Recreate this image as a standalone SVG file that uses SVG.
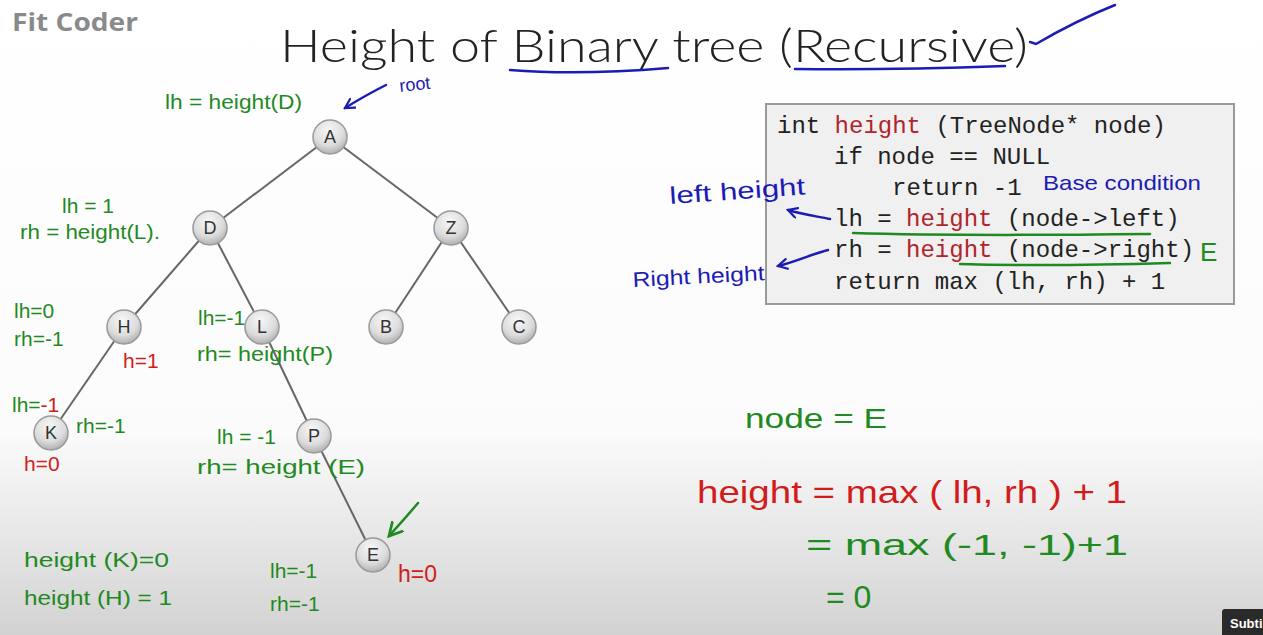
<svg xmlns="http://www.w3.org/2000/svg" width="1263" height="635" viewBox="0 0 1263 635">
<defs>
<linearGradient id="bg" x1="0" y1="0" x2="0" y2="1">
<stop offset="0" stop-color="#ffffff"/>
<stop offset="0.68" stop-color="#fbfbfb"/>
<stop offset="0.85" stop-color="#e6e6e6"/>
<stop offset="1" stop-color="#d2d2d2"/>
</linearGradient>
<radialGradient id="ball" cx="0.45" cy="0.3" r="0.75">
<stop offset="0" stop-color="#f7f7f7"/>
<stop offset="0.6" stop-color="#dcdcdc"/>
<stop offset="1" stop-color="#a8a8a8"/>
</radialGradient>
<marker id="ab" viewBox="0 0 12 12" refX="10" refY="6" markerWidth="12" markerHeight="12" markerUnits="userSpaceOnUse" orient="auto">
<path d="M1 1 L10 6 L1 11" fill="none" stroke="#1c1cb4" stroke-width="2.2" stroke-linecap="round"/>
</marker>
<marker id="ag" viewBox="0 0 14 14" refX="12" refY="7" markerWidth="16" markerHeight="16" markerUnits="userSpaceOnUse" orient="auto">
<path d="M1 1 L12 7 L1 13" fill="none" stroke="#1f8a1f" stroke-width="2.4" stroke-linecap="round"/>
</marker>
<style>
.nd{fill:url(#ball);stroke:#9a9a9a;stroke-width:1.5}
.nl{font-family:"Liberation Sans",Arial,sans-serif;font-size:18px;fill:#333;text-anchor:middle}
.ed{stroke:#666;stroke-width:2;fill:none}
.code{font-family:"Liberation Mono","DejaVu Sans Mono",monospace;font-size:24px;fill:#222}
.kw{fill:#b0242c}
.g{font-family:"Liberation Sans",Arial,sans-serif;font-size:21px;fill:#1f8a1f}
.r{font-family:"Liberation Sans",Arial,sans-serif;font-size:21px;fill:#d21c1c}
.b{font-family:"Liberation Sans",Arial,sans-serif;font-size:21px;fill:#1c1cb4}
.bs{stroke:#1c1cb4;stroke-width:2.5;fill:none;stroke-linecap:round}
.gs{stroke:#1f8a1f;stroke-width:2.5;fill:none;stroke-linecap:round}
</style>
</defs>
<rect x="0" y="0" width="1263" height="635" fill="url(#bg)"/>
<text x="12" y="31" font-family="'Open Sans','Liberation Sans',sans-serif" font-size="25" font-weight="bold" fill="#8a8a8a" textLength="126" lengthAdjust="spacingAndGlyphs">Fit Coder</text>
<text x="280" y="62" font-family="Lato,'Open Sans','Liberation Sans',sans-serif" font-size="46" font-weight="300" fill="#222" textLength="748" lengthAdjust="spacingAndGlyphs">Height of Binary tree (Recursive)</text>
<g id="title-marks">
<path class="bs" d="M510 70 C560 74 620 72 668 68"/>
<path class="bs" d="M795 69 C870 70 950 68 1005 66"/>
<path class="bs" d="M1030 42 L1036 44 C1060 30 1090 15 1115 5"/>
</g>
<g id="connectors">
<line class="ed" x1="330" y1="137" x2="210" y2="228"/>
<line class="ed" x1="330" y1="137" x2="451" y2="228"/>
<line class="ed" x1="210" y1="228" x2="124" y2="327"/>
<line class="ed" x1="210" y1="228" x2="262" y2="327"/>
<line class="ed" x1="451" y1="228" x2="386" y2="327"/>
<line class="ed" x1="451" y1="228" x2="519" y2="327"/>
<line class="ed" x1="124" y1="327" x2="51" y2="433"/>
<line class="ed" x1="262" y1="327" x2="314" y2="436"/>
<line class="ed" x1="314" y1="436" x2="373" y2="555"/>
</g>
<g id="node-A"><circle class="nd" cx="330" cy="137" r="17"/><text class="nl" x="330" y="143">A</text></g>
<g id="node-D"><circle class="nd" cx="210" cy="228" r="17"/><text class="nl" x="210" y="234">D</text></g>
<g id="node-Z"><circle class="nd" cx="451" cy="228" r="17"/><text class="nl" x="451" y="234">Z</text></g>
<g id="node-H"><circle class="nd" cx="124" cy="327" r="17"/><text class="nl" x="124" y="333">H</text></g>
<g id="node-L"><circle class="nd" cx="262" cy="327" r="17"/><text class="nl" x="262" y="333">L</text></g>
<g id="node-B"><circle class="nd" cx="386" cy="327" r="17"/><text class="nl" x="386" y="333">B</text></g>
<g id="node-C"><circle class="nd" cx="519" cy="327" r="17"/><text class="nl" x="519" y="333">C</text></g>
<g id="node-K"><circle class="nd" cx="51" cy="433" r="17"/><text class="nl" x="51" y="439">K</text></g>
<g id="node-P"><circle class="nd" cx="314" cy="436" r="17"/><text class="nl" x="314" y="442">P</text></g>
<g id="node-E"><circle class="nd" cx="373" cy="555" r="17"/><text class="nl" x="373" y="561">E</text></g>
<g id="code-box">
<rect x="766" y="104" width="468" height="200" fill="#f0f0f0" stroke="#9a9a9a" stroke-width="2"/>
<text class="code" x="777" y="133">int <tspan class="kw">height</tspan> (TreeNode* node)</text>
<text class="code" x="834" y="164">if node == NULL</text>
<text class="code" x="892" y="195">return -1</text>
<text class="code" x="834" y="226">lh = <tspan class="kw">height</tspan> (node-&gt;left)</text>
<text class="code" x="834" y="257">rh = <tspan class="kw">height</tspan> (node-&gt;right)</text>
<text class="code" x="834" y="289">return max (lh, rh) + 1</text>
<path class="gs" d="M853 233 C950 236 1060 235 1150 234" stroke-width="3"/>
<path class="gs" d="M960 264 C1030 266 1100 265 1170 263" stroke-width="3"/>
<text class="g" x="1200" y="261" style="font-size:26px">E</text>
<text class="b" x="1043" y="190" textLength="158" lengthAdjust="spacingAndGlyphs">Base condition</text>
</g>
<g id="annotations-blue">
<text class="b" x="670" y="204" style="font-size:24px" textLength="136" lengthAdjust="spacingAndGlyphs" transform="rotate(-4 670 204)">left height</text>
<path class="bs" d="M830 219 C815 216 800 214 788 210" marker-end="url(#ab)"/>
<text class="b" x="633" y="287" textLength="132" lengthAdjust="spacingAndGlyphs" transform="rotate(-3 633 287)">Right height</text>
<path class="bs" d="M828 250 C812 254 795 262 778 266" marker-end="url(#ab)"/>
<text class="b" x="400" y="92" style="font-size:18px" transform="rotate(-6 400 92)">root</text>
<path class="bs" d="M386 85 C372 92 358 100 345 108" marker-end="url(#ab)"/>
</g>
<g id="annotations-tree">
<text class="g" x="165" y="109" textLength="137" lengthAdjust="spacingAndGlyphs">lh = height(D)</text>
<text class="g" x="62" y="213">lh = 1</text>
<text class="g" x="20" y="239" textLength="140" lengthAdjust="spacingAndGlyphs">rh = height(L).</text>
<text class="g" x="14" y="318">lh=0</text>
<text class="g" x="14" y="346">rh=-1</text>
<text class="r" x="123" y="368">h=1</text>
<text class="g" x="198" y="325">lh=-1</text>
<text class="g" x="197" y="361" textLength="136" lengthAdjust="spacingAndGlyphs">rh= height(P)</text>
<text class="g" x="12" y="412">lh=<tspan fill="#d21c1c">-1</tspan></text>
<text class="g" x="76" y="433">rh=-1</text>
<text class="r" x="24" y="471">h=0</text>
<text class="g" x="217" y="444">lh = -1</text>
<text class="g" x="197" y="474" textLength="168" lengthAdjust="spacingAndGlyphs">rh= height (E)</text>
<path class="gs" d="M418 503 C408 515 398 526 389 536" marker-end="url(#ag)"/>
<text class="g" x="24" y="567" textLength="145" lengthAdjust="spacingAndGlyphs">height (K)=0</text>
<text class="g" x="24" y="605" textLength="148" lengthAdjust="spacingAndGlyphs">height (H) = 1</text>
<text class="g" x="270" y="578">lh=-1</text>
<text class="g" x="270" y="611">rh=-1</text>
<text class="r" x="398" y="582" style="font-size:23px">h=0</text>
</g>
<g id="annotations-calc">
<text class="g" x="745" y="428" style="font-size:28px" textLength="142" lengthAdjust="spacingAndGlyphs">node = E</text>
<text class="r" x="697" y="503" style="font-size:32px" textLength="430" lengthAdjust="spacingAndGlyphs">height = max ( lh, rh ) + 1</text>
<text class="g" x="806" y="555" style="font-size:30px" textLength="322" lengthAdjust="spacingAndGlyphs">= max (-1, -1)+1</text>
<text class="g" x="826" y="608" style="font-size:32px">= 0</text>
</g>
<g id="subtitle-button">
<rect x="1222" y="609" width="50" height="30" rx="3" fill="#2a2a2a"/>
<text x="1230" y="628" font-family="'Liberation Sans',Arial,sans-serif" font-size="13" font-weight="bold" fill="#ffffff">Subti</text>
</g>
</svg>
